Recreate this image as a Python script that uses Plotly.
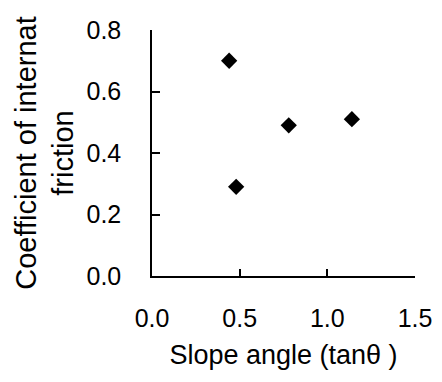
import plotly.graph_objects as go

slope_tan = [0.44, 0.48, 0.78, 1.14]
friction_coef = [0.70, 0.29, 0.49, 0.51]
x_ticks = [0.0, 0.5, 1.0, 1.5]
x_tick_labels = ["0.0", "0.5", "1.0", "1.5"]
y_ticks = [0.0, 0.2, 0.4, 0.6, 0.8]
y_tick_labels = ["0.0", "0.2", "0.4", "0.6", "0.8"]

fig = go.Figure()
fig.add_trace(go.Scatter(
    x=slope_tan, y=friction_coef, mode="markers",
    marker=dict(symbol="diamond", size=12.5, color="black"),
    showlegend=False, cliponaxis=False,
))

font = "Liberation Sans, Arial, sans-serif"
fig.update_layout(
    width=442, height=382,
    margin=dict(l=152, r=27, t=30, b=106),
    paper_bgcolor="white", plot_bgcolor="white",
    font=dict(family=font, color="black"),
    xaxis=dict(
        range=[0, 1.5], tickvals=x_ticks, ticktext=x_tick_labels,
        ticks="inside", ticklen=7, tickwidth=1.5, tickcolor="black",
        showline=True, linecolor="black", linewidth=1.5, mirror=False,
        showgrid=False, zeroline=False,
        tickfont=dict(size=25, family=font), ticklabelstandoff=19,
        title=dict(text="Slope angle (tan\u03b8 )", font=dict(size=27, family=font), standoff=14),
        automargin=False,
    ),
    yaxis=dict(
        range=[0, 0.8], tickvals=y_ticks, ticktext=y_tick_labels,
        ticks="inside", ticklen=8, tickwidth=1.5, tickcolor="black",
        showline=True, linecolor="black", linewidth=1.5, mirror=False,
        showgrid=False, zeroline=False,
        tickfont=dict(size=25, family=font), ticklabelstandoff=24,
        title=dict(text="Coefficient of internat<br>friction", font=dict(size=29, family=font), standoff=4),
        automargin=False,
    ),
)

fig.write_html("out.html", config={"displayModeBar": False},
               post_script="document.body.style.margin='0';")
